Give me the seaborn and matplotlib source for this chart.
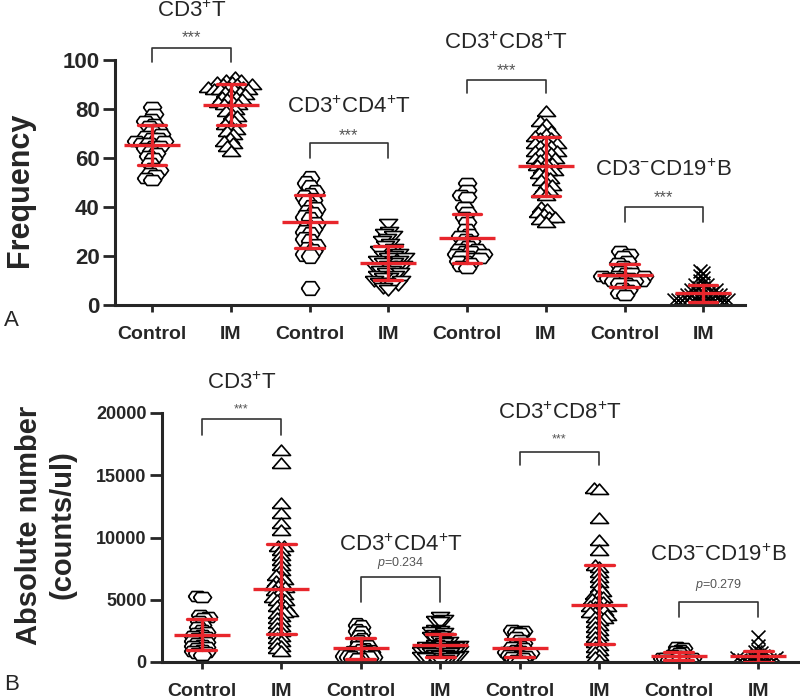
import matplotlib
matplotlib.use("Agg")
import matplotlib.pyplot as plt
import pandas as pd
import seaborn as sns

# categories (one column per cell population and group)
groups = ["CD3T_Control", "CD3T_IM", "CD4T_Control", "CD4T_IM",
          "CD8T_Control", "CD8T_IM", "CD19B_Control", "CD19B_IM"]
tick_labels = ["Control", "IM"] * 4
subset_titles = ["CD3$^{+}$T", "CD3$^{+}$CD4$^{+}$T", "CD3$^{+}$CD8$^{+}$T", "CD3$^{-}$CD19$^{+}$B"]
freq_tests = ["***", "***", "***", "***"]
abs_tests = ["***", "$p$=0.234", "***", "$p$=0.279"]

# Panel A: frequency
freq_cd3_ctrl = [81, 78, 76, 75, 74, 73, 72, 71, 70, 69, 68, 68, 67, 67, 66, 66, 65, 65, 64, 63,
                 62, 61, 60, 58, 56, 55, 54, 53, 52, 51]
freq_cd3_im = [93, 92, 92, 91, 91, 90, 90, 90, 89, 89, 89, 88, 88, 88, 88, 87, 87, 86, 86, 85, 85,
               84, 84, 83, 83, 82, 82, 81, 80, 79, 78, 77, 76, 75, 74, 73, 72, 71, 70, 68, 67, 66, 65, 63]
freq_cd4_ctrl = [52, 50, 48, 46, 45, 44, 43, 42, 40, 39, 38, 37, 36, 35, 33, 32, 31, 30, 29, 27,
                 26, 24, 23, 22, 21, 20, 7]
freq_cd4_im = [33, 30, 29, 28, 27, 26, 25, 24, 23, 22, 22, 21, 20, 20, 19, 19, 18, 18, 17, 17,
               16, 16, 15, 15, 14, 14, 13, 13, 12, 12, 11, 11, 10, 10, 9, 9, 8, 8, 7, 6]
freq_cd8_ctrl = [50, 47, 45, 44, 40, 38, 36, 34, 31, 29, 28, 27, 26, 25, 24, 23, 23, 22, 22, 21,
                 21, 20, 20, 19, 19, 18, 18, 17, 16, 15]
freq_cd8_im = [79, 75, 74, 72, 71, 70, 69, 68, 68, 67, 66, 66, 65, 65, 64, 63, 63, 62, 62, 61, 60,
               60, 59, 58, 58, 57, 56, 55, 55, 54, 53, 52, 51, 50, 49, 48, 47, 46, 45, 40, 39, 38,
               37, 36, 36, 35, 34]
freq_cd19_ctrl = [22, 21, 20, 18, 17, 16, 15, 14, 13, 13, 12, 12, 12, 11, 11, 11, 10, 10, 10, 9,
                  9, 8, 7, 6, 5, 4]
freq_cd19_im = [14, 13, 12, 11, 10, 9, 8, 8, 7, 7, 6, 6, 6, 5, 5, 5, 5, 4, 4, 4, 4, 3, 3, 3, 3, 3,
                2, 2, 2, 2, 2, 2, 2, 1, 1, 1, 1, 1, 1, 0.5]

# Panel B: absolute number (counts/ul)
abs_cd3_ctrl = [5300, 5200, 3800, 3600, 3500, 3300, 3000, 2800, 2600, 2400, 2300, 2200, 2100, 2000,
                1900, 1800, 1700, 1600, 1500, 1400, 1300, 1200, 1100, 1000, 900, 800, 700, 600]
abs_cd3_im = [17000, 16000, 12800, 12000, 11200, 10600, 9300, 9300, 9000, 8600, 8200, 7800, 7400,
              7000, 7000, 6700, 6500, 6400, 6200, 6100, 6000, 5800, 5800, 5500, 5500, 5200, 5200,
              5000, 5000, 4800, 4500, 4500, 4300, 4100, 4000, 3900, 3700, 3500, 3300, 3100, 2900,
              2700, 2500, 2300, 2100, 1900, 1700, 1500, 1300, 1100, 900]
abs_cd4_ctrl = [3000, 2800, 2500, 2300, 2000, 1800, 1600, 1400, 1300, 1200, 1100, 1000, 900, 800,
                700, 700, 600, 600, 500, 500, 400, 400, 300, 300, 300, 200, 200]
abs_cd4_im = [3600, 3400, 3300, 3200, 2600, 2500, 2400, 2300, 2200, 2100, 2000, 1900, 1800, 1700,
              1600, 1500, 1400, 1300, 1300, 1200, 1200, 1100, 1100, 1000, 1000, 900, 900, 800, 800,
              800, 700, 700, 600, 600, 500, 500, 400, 400, 300, 300, 300, 200, 200, 100]
abs_cd8_ctrl = [2600, 2500, 2400, 2300, 2000, 1800, 1500, 1400, 1300, 1200, 1100, 1000, 900, 800,
                800, 700, 700, 600, 600, 500, 500, 400, 300, 200, 100]
abs_cd8_im = [14000, 13900, 11600, 9800, 9000, 7800, 7600, 7200, 6800, 6400, 6000, 5700, 5500, 5400,
              5200, 5100, 5000, 4800, 4800, 4600, 4500, 4500, 4400, 4200, 4200, 4000, 4000, 3800,
              3800, 3600, 3500, 3400, 3200, 3000, 2800, 2600, 2400, 2200, 2000, 1800, 1600, 1400,
              1200, 1000, 800, 600, 400, 200]
abs_cd19_ctrl = [1200, 1100, 1000, 900, 800, 700, 600, 500, 500, 400, 400, 300, 300, 300, 200, 200,
                 200, 100, 100, 100, 50]
abs_cd19_im = [2000, 1300, 900, 800, 700, 600, 500, 400, 400, 300, 300, 300, 200, 200, 200, 200,
               100, 100, 100, 100, 50, 50]

freq_values = [freq_cd3_ctrl, freq_cd3_im, freq_cd4_ctrl, freq_cd4_im,
               freq_cd8_ctrl, freq_cd8_im, freq_cd19_ctrl, freq_cd19_im]
abs_values = [abs_cd3_ctrl, abs_cd3_im, abs_cd4_ctrl, abs_cd4_im,
              abs_cd8_ctrl, abs_cd8_im, abs_cd19_ctrl, abs_cd19_im]

# flattened Prism-style markers
wide_hex = [(-1, 0), (-0.6, 0.55), (0.6, 0.55), (1, 0), (0.6, -0.55), (-0.6, -0.55), (-1, 0)]
round_hex = [(-1, 0), (-0.5, 0.75), (0.5, 0.75), (1, 0), (0.5, -0.75), (-0.5, -0.75), (-1, 0)]
tri_up = [(-1, -0.55), (1, -0.55), (0, 0.6), (-1, -0.55)]
tri_down = [(-1, 0.55), (1, 0.55), (0, -0.6), (-1, 0.55)]
group_markers = [wide_hex, tri_up, round_hex, tri_down, wide_hex, tri_up, wide_hex, "x"]

# spacing used to lay out each swarm (points), tighter where values pile up near zero
freq_swarm_sizes = [3, 3, 3, 3, 3, 3, 3, 1.8]
abs_swarm_sizes = [2.2, 2.2, 1.7, 2.2, 1.7, 2.2, 1.2, 1.3]

RED = "#e8262c"

sns.set_style("ticks")
plt.rcParams["font.family"] = "Liberation Sans"
plt.rcParams["mathtext.fontset"] = "custom"
plt.rcParams["mathtext.rm"] = "Liberation Sans"
plt.rcParams["mathtext.it"] = "Liberation Sans:italic"
plt.rcParams["mathtext.bf"] = "Liberation Sans:bold"

swarms = []  # (collection, marker) pairs, resized after layout


def to_long(values):
    rows = []
    for g, vals in zip(groups, values):
        for v in vals:
            rows.append({"group": g, "value": v})
    return pd.DataFrame(rows)


def draw_panel(ax, values, ylim, yticks, xlim, swarm_sizes):
    df = to_long(values)
    for g, m, sz in zip(groups, group_markers, swarm_sizes):
        face = "black" if m == "x" else "white"
        n_before = len(ax.collections)
        sns.swarmplot(data=df[df["group"] == g], x="group", y="value", order=groups,
                      marker=m, color=face, edgecolor="black", linewidth=1.2,
                      size=sz, ax=ax, zorder=2, warn_thresh=1)
        for coll in ax.collections[n_before:]:
            if len(coll.get_offsets()) > 0:
                swarms.append((coll, m))
    sns.pointplot(data=df, x="group", y="value", order=groups, errorbar="sd",
                  capsize=0.36, color=RED, marker="_", markersize=41,
                  markeredgewidth=2.4, linestyle="none",
                  err_kws={"linewidth": 2.4, "zorder": 5}, ax=ax, zorder=6)
    ax.set_xlim(*xlim)
    ax.set_ylim(*ylim)
    ax.set_yticks(yticks)
    ax.set_xticks(range(len(groups)))
    ax.set_xticklabels(tick_labels, fontweight="bold", fontsize=14)
    ax.set_xlabel("")
    sns.despine(ax=ax)
    for s in ["left", "bottom"]:
        ax.spines[s].set_linewidth(2.2)
    ax.tick_params(axis="x", length=5, width=2, pad=10)
    ax.tick_params(axis="y", length=9, width=2, pad=2)


def annotate(ax, tests, title_y, test_y, top_y, end_y, test_size):
    for i in range(4):
        x0, x1 = 2 * i, 2 * i + 1
        ax.text((x0 + x1) / 2, title_y[i], subset_titles[i], ha="center", va="center",
                fontsize=16, clip_on=False)
        ax.text((x0 + x1) / 2, test_y[i], tests[i], ha="center", va="center",
                fontsize=test_size, color="#555555", clip_on=False)
        ax.plot([x0, x0, x1, x1], [end_y[i], top_y[i], top_y[i], end_y[i]],
                color="#333333", linewidth=1.2, clip_on=False)


fig = plt.figure(figsize=(8, 6.98), dpi=100)
ax_a = fig.add_axes([115 / 800, 1 - 305 / 698, 630 / 800, 245 / 698])
ax_b = fig.add_axes([162 / 800, 1 - 662 / 698, 636 / 800, 249 / 698])

draw_panel(ax_a, freq_values, (0, 100), range(0, 101, 20), (-0.47, 7.53), freq_swarm_sizes)
draw_panel(ax_b, abs_values, (0, 20000), range(0, 20001, 5000), (-0.5, 7.5), abs_swarm_sizes)

for lab in ax_a.get_yticklabels():
    lab.set_fontweight("bold")
    lab.set_fontsize(16)
for lab in ax_b.get_yticklabels():
    lab.set_fontweight("bold")
    lab.set_fontsize(13)

ax_a.set_ylabel("Frequency", fontsize=22, fontweight="bold")
ax_a.yaxis.set_label_coords(-0.127, 0.47)
ax_b.set_ylabel("Absolute number\n(counts/ul)", fontsize=21, fontweight="bold", linespacing=1.25)
ax_b.yaxis.set_label_coords(-0.135, 0.55)

annotate(ax_a, freq_tests, [120, 80.8, 107, 55], [109, 69, 95.7, 44],
         [105, 66, 92, 40], [99, 60, 86.5, 34], 12)
annotate(ax_b, abs_tests, [22400, 9400, 20000, 8600], [20300, 7950, 17900, 6150],
         [19500, 6830, 16860, 4820], [18230, 4820, 15820, 3610], 9)

fig.text(0.005, 1 - 320 / 698, "A", fontsize=16, va="center")
fig.text(0.005, 1 - 685 / 698, "B", fontsize=16, va="center")

# lay out the swarms with small spacing, then freeze them and enlarge markers (Prism look)
fig.canvas.draw()
for coll, m in swarms:
    if "draw" in coll.__dict__:
        del coll.draw
    coll.set_sizes([100 if m == "x" else 170])

fig.savefig("out.png", dpi=100)
